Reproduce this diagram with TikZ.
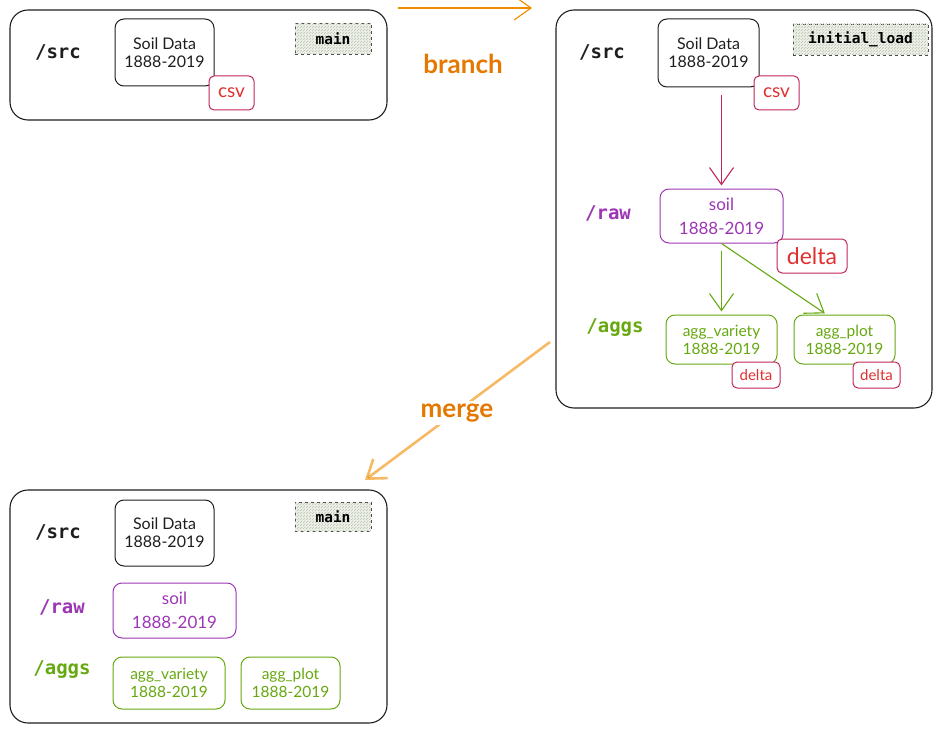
\documentclass[tikz,border=0pt]{standalone}
\usepackage{fontspec}
\usepackage{tikz}
\usetikzlibrary{arrows.meta, patterns}
\setmainfont{Lato}
\newfontfamily\codefont{DejaVu Sans Mono}

\definecolor{ink}{HTML}{1E1E1E}
\definecolor{crimson}{HTML}{C2255C}
\definecolor{redtxt}{HTML}{E03131}
\definecolor{violet}{HTML}{9C36B5}
\definecolor{leaf}{HTML}{66A80F}
\definecolor{amber}{HTML}{F08C00}
\definecolor{ambertxt}{HTML}{E67700}
\definecolor{tagfill}{HTML}{EEF0EA}
\definecolor{taghatch}{HTML}{B9C2AE}

\tikzset{
  frame/.style={draw=ink, line width=1.1pt, rounded corners=18pt},
  databox/.style={draw=ink, line width=1pt, rounded corners=9pt, align=center, inner sep=0pt, text=ink, font=\fontsize{16}{18}\selectfont},
  rawbox/.style={databox, draw=violet, text=violet, font=\fontsize{17}{24}\selectfont},
  aggbox/.style={databox, draw=leaf, text=leaf, font=\fontsize{15.5}{18}\selectfont},
  fmtbox/.style={draw=crimson, line width=1pt, rounded corners=5pt, fill=white, inner sep=0pt, text=redtxt},
  tagbox/.style={draw=ink!80, dashed, line width=0.8pt, fill=tagfill, postaction={pattern=north east lines, pattern color=taghatch}, inner sep=0pt, font=\codefont\bfseries\fontsize{14.5}{16}\selectfont},
  dirlabel/.style={font=\codefont\bfseries\fontsize{19}{21}\selectfont, text=ink},
  flow/.style={-{Straight Barb[length=17pt,width=24pt]}, line width=1.1pt},
}

\begin{document}
\begin{tikzpicture}[x=1pt,y=-1pt]
\useasboundingbox (0,0) rectangle (942,733);

%Shape: main branch, before
\node (mainA) [frame, minimum width=377pt, minimum height=110pt] at (198.5,65) {};
\node (srcA) [dirlabel] at (58,52) {/src};
\node (soildataA) [databox, minimum width=99pt, minimum height=67pt] at (164.5,52.5) {Soil Data\\1888-2019};
\node (csvA) [fmtbox, minimum width=45pt, minimum height=34pt, font=\fontsize{19}{21}\selectfont] at (231.5,93) {csv};
\node (tagA) [tagbox, minimum width=76pt, minimum height=31pt] at (333,38.5) {main};

%Shape: initial_load branch
\node (loadB) [frame, minimum width=376pt, minimum height=398pt] at (744,209) {};
\node (srcB) [dirlabel] at (602,52) {/src};
\node (soildataB) [databox, minimum width=101pt, minimum height=68pt] at (708.5,53) {Soil Data\\1888-2019};
\node (csvB) [fmtbox, minimum width=45pt, minimum height=34pt, font=\fontsize{19}{21}\selectfont] at (776.5,93) {csv};
\node (tagB) [tagbox, minimum width=135pt, minimum height=31pt] at (860.5,39.5) {initial\_load};
\node (rawB) [dirlabel, text=violet] at (608,213) {/raw};
\node (soilB) [rawbox, minimum width=123pt, minimum height=54pt] at (721.5,216) {soil\\1888-2019};
\node (deltaB) [fmtbox, minimum width=70pt, minimum height=34pt, font=\fontsize{23}{25}\selectfont] at (812,256) {delta};
\node (aggsB) [dirlabel, text=leaf] at (615,328) {/aggs};
\node (varietyB) [aggbox, minimum width=111pt, minimum height=49pt] at (721.5,339.5) {agg\_variety\\1888-2019};
\node (dvarB) [fmtbox, minimum width=48pt, minimum height=26pt, font=\fontsize{15}{17}\selectfont] at (756,375) {delta};
\node (plotB) [aggbox, minimum width=101pt, minimum height=49pt] at (844.5,339.5) {agg\_plot\\1888-2019};
\node (dplotB) [fmtbox, minimum width=47pt, minimum height=26pt, font=\fontsize{15}{17}\selectfont] at (876.5,375) {delta};

%Straight Lines: src -> raw -> aggs
\draw [flow, draw=crimson, shorten <=8pt, shorten >=3pt] (soilB.north |- soildataB.south) -- (soilB.north);
\draw [flow, draw=leaf, shorten <=7pt, shorten >=3pt] (soilB.south) -- (varietyB.north);
\draw [flow, draw=leaf, shorten >=2pt] (soilB.south) -- ([xshift=-18pt]plotB.north);

%Shape: main branch, after merge
\node (mainC) [frame, minimum width=377pt, minimum height=233pt] at (198.5,606.5) {};
\node (srcC) [dirlabel] at (58,532) {/src};
\node (soildataC) [databox, minimum width=99pt, minimum height=66pt] at (164.5,533) {Soil Data\\1888-2019};
\node (tagC) [tagbox, minimum width=76pt, minimum height=29pt] at (333,516.5) {main};
\node (rawC) [dirlabel, text=violet] at (62,607) {/raw};
\node (soilC) [rawbox, minimum width=123pt, minimum height=55pt] at (174.5,610.5) {soil\\1888-2019};
\node (aggsC) [dirlabel, text=leaf] at (62,670) {/aggs};
\node (varietyC) [aggbox, minimum width=112pt, minimum height=52pt] at (169,683) {agg\_variety\\1888-2019};
\node (plotC) [aggbox, minimum width=99pt, minimum height=52pt] at (290.5,683) {agg\_plot\\1888-2019};

%Arrows: branch and merge
\coordinate (branchStart) at (398,8);
\coordinate (branchEnd) at (532,8);
\draw [flow, draw=amber] (branchStart) -- (branchEnd);
\node (branchLbl) [text=ambertxt, font=\bfseries\fontsize{26}{28}\selectfont] at (463,64) {branch};

\coordinate (mergeStart) at (550,342);
\coordinate (mergeEnd) at (365,480);
\draw [flow, draw=amber, draw opacity=0.6, line width=2.6pt] (mergeStart) -- (mergeEnd);
\node (mergeLbl) [fill=white, text=ambertxt, font=\bfseries\fontsize{26}{28}\selectfont] at (457,413) {merge};

\end{tikzpicture}
\end{document}
